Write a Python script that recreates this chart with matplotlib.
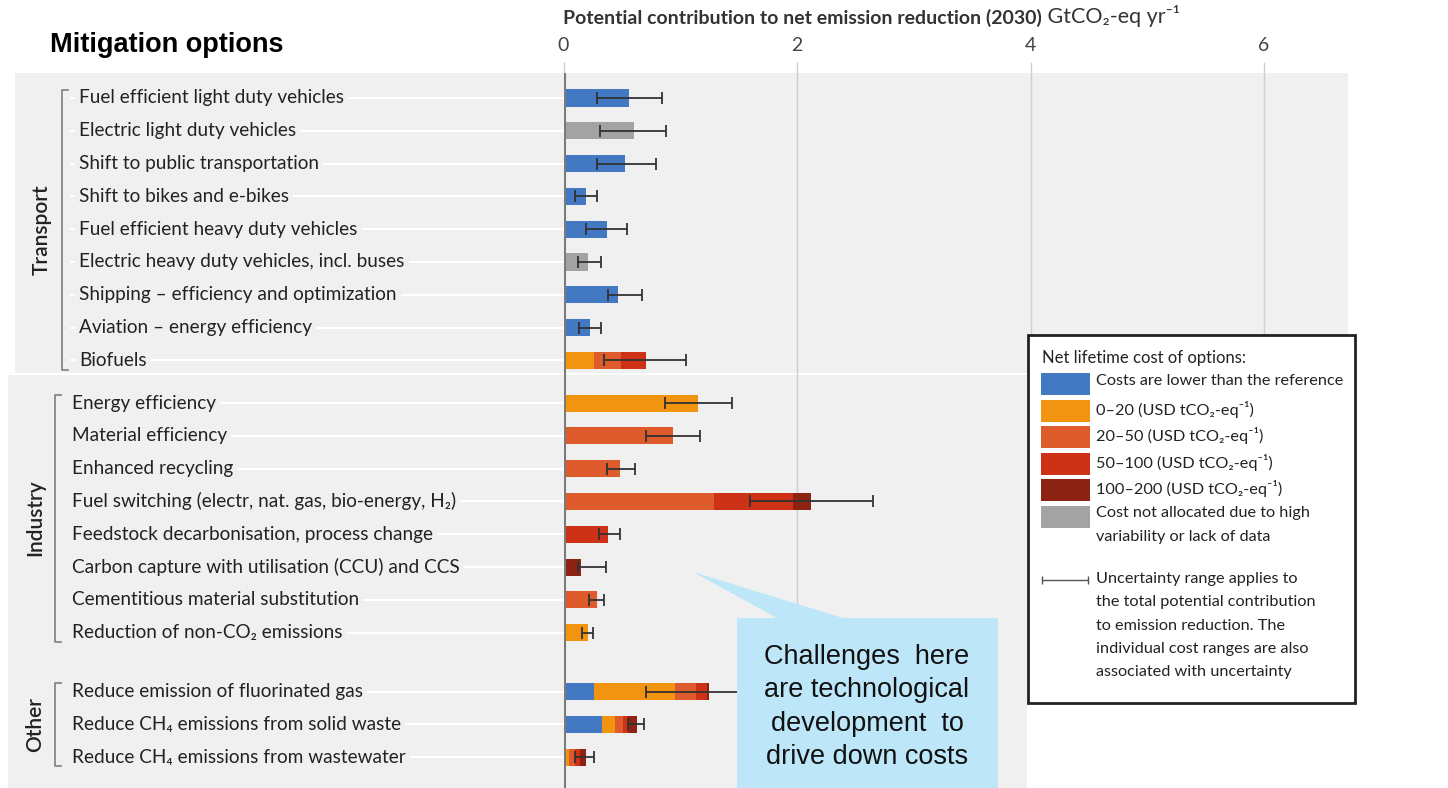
import matplotlib.pyplot as plt
from matplotlib.patches import Rectangle, Polygon
import numpy as np

# mitigation options, top to bottom
options = [
    "Fuel efficient light duty vehicles",
    "Electric light duty vehicles",
    "Shift to public transportation",
    "Shift to bikes and e-bikes",
    "Fuel efficient heavy duty vehicles",
    "Electric heavy duty vehicles, incl. buses",
    "Shipping – efficiency and optimization",
    "Aviation – energy efficiency",
    "Biofuels",
    "Energy efficiency",
    "Material efficiency",
    "Enhanced recycling",
    "Fuel switching (electr, nat. gas, bio-energy, H₂)",
    "Feedstock decarbonisation, process change",
    "Carbon capture with utilisation (CCU) and CCS",
    "Cementitious material substitution",
    "Reduction of non-CO₂ emissions",
    "Reduce emission of fluorinated gas",
    "Reduce CH₄ emissions from solid waste",
    "Reduce CH₄ emissions from wastewater",
]
groups = ["Transport", "Industry", "Other"]
group_sizes = [9, 8, 3]

# potential (GtCO2-eq/yr) split by net lifetime cost band
lower_cost = [0.56, 0, 0.53, 0.19, 0.37, 0, 0.47, 0.23, 0,
              0, 0, 0, 0, 0, 0, 0, 0,
              0.26, 0.33, 0.02]
cost_0_20 = [0, 0, 0, 0, 0, 0, 0, 0, 0.26,
             1.15, 0, 0, 0, 0, 0, 0, 0.21,
             0.695, 0.11, 0.03]
cost_20_50 = [0, 0, 0, 0, 0, 0, 0, 0, 0.23,
              0, 0.94, 0.485, 1.29, 0, 0, 0.285, 0,
              0.18, 0.07, 0.05]
cost_50_100 = [0, 0, 0, 0, 0, 0, 0, 0, 0.22,
               0, 0, 0, 0.68, 0.38, 0, 0, 0,
               0.09, 0.04, 0.04]
cost_100_200 = [0, 0, 0, 0, 0, 0, 0, 0, 0,
                0, 0, 0, 0.15, 0, 0.15, 0, 0,
                0.025, 0.08, 0.05]
not_allocated = [0, 0.60, 0, 0, 0, 0.21, 0, 0, 0,
                 0, 0, 0, 0, 0, 0, 0, 0,
                 0, 0, 0]

# uncertainty range of the total potential
err_low = [0.29, 0.31, 0.29, 0.10, 0.19, 0.12, 0.38, 0.13, 0.35,
           0.87, 0.71, 0.37, 1.60, 0.30, 0.12, 0.22, 0.16,
           0.71, 0.55, 0.10]
err_high = [0.84, 0.88, 0.79, 0.29, 0.54, 0.32, 0.67, 0.32, 1.05,
            1.44, 1.17, 0.61, 2.65, 0.48, 0.36, 0.35, 0.25,
            1.60, 0.69, 0.26]

band_labels = [
    "Costs are lower than the reference",
    "0–20 (USD tCO₂-eq⁻¹)",
    "20–50 (USD tCO₂-eq⁻¹)",
    "50–100 (USD tCO₂-eq⁻¹)",
    "100–200 (USD tCO₂-eq⁻¹)",
    "Cost not allocated due to high\nvariability or lack of data",
]
band_colors = ["#4379c3", "#f39410", "#de5b2c", "#cd3217", "#8c2313", "#a3a3a3"]
bands = [lower_cost, cost_0_20, cost_20_50, cost_50_100, cost_100_200, not_allocated]
x_ticks = [0, 2, 4, 6]

plt.rcParams["font.family"] = ["Lato", "DejaVu Sans"]
PANEL = "#f0f0f0"
TEXT = "#222222"

W, H = 1448, 788
fig = plt.figure(figsize=(W / 100, H / 100), dpi=100)

# background canvas in pixel units
bg = fig.add_axes([0, 0, 1, 1], zorder=0)
bg.set_xlim(0, W)
bg.set_ylim(H, 0)
bg.axis("off")
bg.add_patch(Rectangle((15, 73), 1333, 300, color=PANEL, lw=0))
bg.add_patch(Rectangle((8, 375), 1019, 413, color=PANEL, lw=0))

# main chart area
ax_l, ax_r, ax_t, ax_b = 563.5, 1348, 73, 788
ax = fig.add_axes([ax_l / W, 1 - ax_b / H, (ax_r - ax_l) / W, (ax_b - ax_t) / H], zorder=1)
ax.patch.set_alpha(0)

row_step = 32.8
group_starts = [0, 9.3, 18.1]
ypos = np.concatenate([start + np.arange(n) for start, n in zip(group_starts, group_sizes)])
ax.set_ylim((ax_b - 98) / row_step, (ax_t - 98) / row_step)
ax.set_xlim(0, (ax_r - ax_l) / 116.75)


def axx(px):
    return (px - ax_l) / (ax_r - ax_l)


yt = ax.get_yaxis_transform()

# white guide lines from labels to the zero line
ax.hlines(ypos, axx(70), 0, transform=yt, colors="white", lw=1.5, clip_on=False, zorder=1)

left = np.zeros(len(options))
for vals, color in zip(bands, band_colors):
    vals = np.array(vals)
    ax.barh(ypos, vals, left=left, height=0.52, color=color, lw=0, zorder=3)
    left += vals

err_low = np.array(err_low)
err_high = np.array(err_high)
mid = (err_low + err_high) / 2
ax.errorbar(mid, ypos, xerr=(err_high - err_low) / 2, fmt="none", ecolor="#333333",
            elinewidth=1.3, capsize=4.5, capthick=1.3, zorder=4)

ax.axvline(0, color="#7a7a7a", lw=2.2, zorder=5)
# gridlines stop where the grey panel ends
ax.axvline(2, color="#cfcfcf", lw=1, zorder=2)
for xt in x_ticks[2:]:
    ax.axvline(xt, ymin=(ax_b - 373) / (ax_b - ax_t), ymax=1, color="#cfcfcf", lw=1, zorder=2)

ax.xaxis.tick_top()
ax.set_xticks(x_ticks)
ax.tick_params(axis="x", length=8, width=1, color="#cfcfcf", pad=6, labelsize=14, labelcolor="#444444")
ax.set_yticks([])
for s in ax.spines.values():
    s.set_visible(False)

# option labels
for i, (y, name) in enumerate(zip(ypos, options)):
    xl = 79 if i < group_sizes[0] else 72
    ax.text(axx(xl), y, name, transform=yt, ha="left", va="center", fontsize=13.7,
            color=TEXT, zorder=2, clip_on=False,
            bbox=dict(facecolor=PANEL, edgecolor="none", pad=3))

# group brackets and names
bracket_x = [62, 55, 55]
name_x = [42, 35, 35]
k = 0
for g, n, bx, nx in zip(groups, group_sizes, bracket_x, name_x):
    y0, y1 = ypos[k] - 0.25, ypos[k + n - 1] + 0.28
    ax.plot([axx(bx + 6), axx(bx), axx(bx), axx(bx + 6)], [y0, y0, y1, y1],
            transform=yt, color="#7f7f7f", lw=1.2, clip_on=False)
    ax.text(axx(nx), (ypos[k] + ypos[k + n - 1]) / 2, g, transform=yt, rotation=90,
            ha="center", va="center", fontsize=15, fontweight="semibold", color=TEXT)
    k += n

# titles
fig.text(50 / W, 1 - 45 / H, "Mitigation options", fontsize=19.5, fontweight="bold",
         family=["Liberation Sans", "DejaVu Sans"], va="center", color="black")
t1 = fig.text(563 / W, 1 - 18 / H, "Potential contribution to net emission reduction (2030)",
              fontsize=14, fontweight="bold", va="center", color="#333333")
ax.annotate(" GtCO₂-eq yr⁻¹", xy=(1, 0), xycoords=t1, va="bottom", ha="left",
            fontsize=15.5, color="#333333")

# foreground: legend box and callout
fg = fig.add_axes([0, 0, 1, 1], zorder=3)
fg.set_xlim(0, W)
fg.set_ylim(H, 0)
fg.axis("off")

fg.add_patch(Rectangle((1028, 335), 327, 368, facecolor="white", edgecolor="#222222", lw=2))
fg.text(1042, 358, "Net lifetime cost of options:", fontsize=12, va="center", color=TEXT)
row_y = [384, 410.5, 437, 463.5, 490, 516.5]
for yy, lab, col in zip(row_y, band_labels, band_colors):
    fg.add_patch(Rectangle((1041, yy - 11), 49, 22, color=col, lw=0))
    fg.text(1096, yy - 10, lab, fontsize=11.7, va="top", color=TEXT, linespacing=1.85)
fg.errorbar([1065], [580], xerr=[23], fmt="none", ecolor="#555555", elinewidth=1,
            capsize=3, capthick=1)
fg.text(1096, 572, "Uncertainty range applies to\nthe total potential contribution\n"
        "to emission reduction. The\nindividual cost ranges are also\n"
        "associated with uncertainty", fontsize=11.7, va="top", color=TEXT, linespacing=1.85)

callout = "#bde6f9"
fg.add_patch(Polygon([(693, 572), (777, 618), (843, 618)], closed=True, color=callout, lw=0))
fg.add_patch(Rectangle((737, 618), 261, 170, color=callout, lw=0))
fg.text(867, 707, "Challenges  here\nare technological\ndevelopment  to\ndrive down costs",
        ha="center", va="center", fontsize=19.5, linespacing=1.36, color="#111111",
        family=["Liberation Sans", "DejaVu Sans"])

fig.savefig("out.png", dpi=100)
